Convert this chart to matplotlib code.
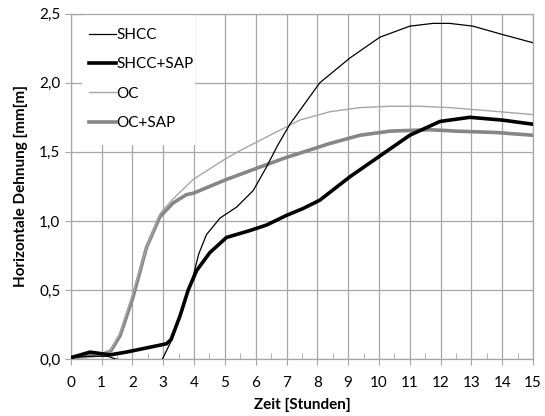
import numpy as np
import matplotlib.pyplot as plt
from matplotlib.patches import Rectangle
from matplotlib.ticker import MultipleLocator, FuncFormatter

plt.rcParams['font.family'] = ['Lato', 'DejaVu Sans']

# SHCC (thin black) - early part, then gap, then main curve
shcc_t = [0.0, 0.6, 1.2, 1.45, 1.75, np.nan, 2.95, 3.3, 3.65, 3.97, 4.15, 4.4, 4.84, 5.38, 5.92, 6.35,
          6.72, 7.11, 8.08, 9.06, 10.03, 11.0, 11.75, 12.3, 13.05, 14.0, 15.0]
shcc_v = [0.01, 0.02, 0.02, 0.0, -0.01, np.nan, -0.01, 0.15, 0.38, 0.60, 0.76, 0.90, 1.02, 1.10, 1.22, 1.39,
          1.55, 1.70, 2.0, 2.18, 2.33, 2.41, 2.43, 2.43, 2.41, 2.35, 2.29]

# SHCC+SAP (thick black)
shcc_sap_t = [0.0, 0.62, 1.27, 1.8, 2.45, 3.1, 3.25, 3.54, 3.81, 4.08, 4.51, 5.05, 5.81, 6.35, 7.0,
              7.54, 8.08, 9.06, 10.03, 11.0, 11.98, 12.95, 14.0, 15.0]
shcc_sap_v = [0.01, 0.05, 0.03, 0.05, 0.08, 0.11, 0.14, 0.31, 0.50, 0.64, 0.77, 0.88, 0.93, 0.97, 1.04,
              1.09, 1.15, 1.32, 1.47, 1.62, 1.72, 1.75, 1.73, 1.70]

# OC (thin light grey)
oc_t = [0.0, 0.5, 1.0, 1.3, 1.6, 2.02, 2.46, 2.89, 3.0, 3.32, 3.97, 4.95, 5.5, 6.46, 7.43, 8.4,
        9.38, 10.36, 11.33, 12.3, 13.4, 15.0]
oc_v = [0.01, 0.01, 0.03, 0.07, 0.19, 0.48, 0.81, 1.05, 1.08, 1.16, 1.30, 1.44, 1.51, 1.62, 1.73, 1.79,
        1.82, 1.83, 1.83, 1.82, 1.80, 1.77]

# OC+SAP (thick grey)
oc_sap_t = [0.0, 0.5, 1.0, 1.3, 1.6, 2.02, 2.46, 2.89, 3.32, 3.75, 3.97, 5.05, 6.14, 7.0, 7.43, 8.4,
            9.38, 10.36, 11.65, 12.5, 13.8, 15.0]
oc_sap_v = [0.01, 0.02, 0.03, 0.06, 0.17, 0.45, 0.81, 1.03, 1.13, 1.19, 1.20, 1.30, 1.39, 1.46, 1.49, 1.56,
            1.62, 1.65, 1.66, 1.65, 1.64, 1.62]

fig = plt.figure(figsize=(5.45, 4.16), dpi=100)
ax = fig.add_axes([0.130, 0.137, 0.848, 0.830])

grid_c = '#a6a6a6'
ax.plot(oc_sap_t, oc_sap_v, color='#868686', lw=2.6, label='OC+SAP', zorder=3)
ax.plot(oc_t, oc_v, color='#a6a6a6', lw=1.0, label='OC', zorder=4)
ax.plot(shcc_sap_t, shcc_sap_v, color='black', lw=2.6, label='SHCC+SAP', zorder=5)
ax.plot(shcc_t, shcc_v, color='black', lw=0.9, label='SHCC', zorder=6)

ax.set_xlim(0, 15)
ax.set_ylim(0, 2.5)
ax.xaxis.set_major_locator(MultipleLocator(1))
ax.xaxis.set_minor_locator(MultipleLocator(0.5))
ax.yaxis.set_major_locator(MultipleLocator(0.5))
ax.yaxis.set_major_formatter(FuncFormatter(lambda v, p: f'{v:.1f}'.replace('.', ',')))
ax.grid(True, which='major', color=grid_c, lw=0.9, zorder=0.5)
ax.set_axisbelow(True)
for s in ax.spines.values():
    s.set_color(grid_c)
    s.set_linewidth(0.9)
ax.tick_params(axis='x', which='major', direction='out', length=4, color=grid_c, labelsize=11, pad=8)
ax.tick_params(axis='x', which='minor', direction='in', length=4, color=grid_c)
ax.tick_params(axis='y', which='major', direction='out', length=4, color=grid_c, labelsize=11)

ax.set_xlabel('Zeit [Stunden]', fontsize=11, fontweight='bold', labelpad=6)
ax.set_ylabel('Horizontale Dehnung [mm[m]', fontsize=11, fontweight='bold', labelpad=8)

# white area behind the legend hides the grid there
ax.add_patch(Rectangle((0.024, 0.62), 0.244, 0.375, transform=ax.transAxes,
                       facecolor='white', edgecolor='none', zorder=2))

h, l = ax.get_legend_handles_labels()
order = [3, 2, 1, 0]
leg = ax.legend([h[i] for i in order], [l[i] for i in order], loc='upper left',
                bbox_to_anchor=(0.02, 0.985), frameon=False, fontsize=11,
                handlelength=1.75, handletextpad=0.0, labelspacing=1.0,
                borderpad=0.6, borderaxespad=0.0)
leg.set_zorder(10)

fig.savefig('out.png', dpi=100)
